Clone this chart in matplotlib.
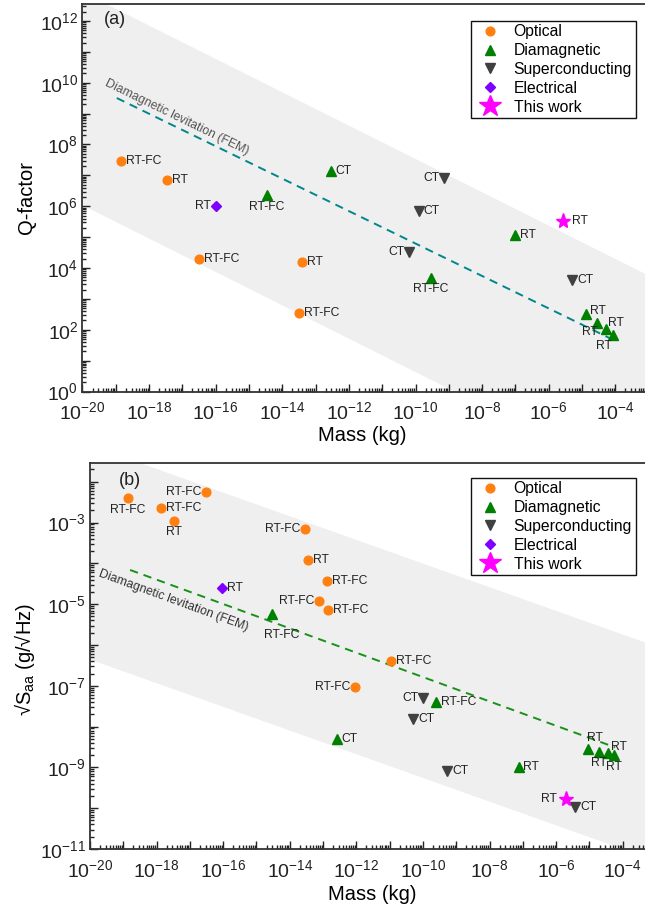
import numpy as np
import matplotlib
matplotlib.use("Agg")
import matplotlib.pyplot as plt
from matplotlib import ticker
from matplotlib.lines import Line2D

plt.rcParams['font.family'] = ['Liberation Sans', 'DejaVu Sans']
plt.rcParams['mathtext.fontset'] = 'custom'
plt.rcParams['mathtext.rm'] = 'Liberation Sans'
plt.rcParams['mathtext.it'] = 'Liberation Sans:italic'
plt.rcParams['mathtext.bf'] = 'Liberation Sans:bold'
plt.rcParams['mathtext.default'] = 'regular'
plt.rcParams['lines.scale_dashes'] = False

# ---------------- (a) Q-factor vs mass ----------------
qa_opt_mass = [1.4e-19, 3.4e-18, 3.2e-17, 4.0e-14, 3.2e-14]
qa_opt_val = [3.0e7, 6.9e6, 1.9e4, 1.6e4, 355]
qa_opt_txt = ['RT-FC', 'RT', 'RT-FC', 'RT', 'RT-FC']
qa_opt_pos = ['r', 'r', 'r', 'r', 'r']

qa_dia_mass = [3.4e-15, 2.9e-13, 2.95e-10, 9.5e-8, 1.3e-5, 2.9e-5, 5.1e-5, 8.3e-5]
qa_dia_val = [2.3e6, 1.4e7, 4.9e3, 1.2e5, 324, 162, 102, 68]
qa_dia_txt = ['RT-FC', 'CT', 'RT-FC', 'RT', 'RT', 'RT', 'RT', 'RT']
qa_dia_pos = ['b', 'r', 'b', 'r', 'ru', 'll', 'ur', 'bl']

qa_sc_mass = [7.4e-10, 1.26e-10, 6.5e-11, 5.1e-6]
qa_sc_val = [8.1e6, 7.2e5, 3.4e4, 4.1e3]
qa_sc_txt = ['CT', 'CT', 'CT', 'CT']
qa_sc_pos = ['l', 'r', 'l', 'r']

qa_el_mass = [1.0e-16]
qa_el_val = [1.05e6]
qa_el_txt = ['RT']
qa_el_pos = ['l']

qa_tw_mass = [2.6e-6]
qa_tw_val = [3.4e5]
qa_tw_txt = ['RT']
qa_tw_pos = ['R']

qa_band_mass = [1e-20, 1e-3]
qa_band_hi = [8.7e12, 5.8e3]
qa_band_lo = [1.1e6, 7.2e-4]
qa_fem_mass = [1.07e-19, 8.7e-5]
qa_fem_val = [3.2e9, 47]

# ---------------- (b) acceleration noise vs mass ----------------
sb_opt_mass = [1.4e-19, 1.35e-18, 3.3e-18, 3.0e-17, 2.9e-14, 3.6e-14,
               1.35e-13, 7.8e-14, 1.4e-13, 9.1e-13, 1.1e-11]
sb_opt_val = [4.0e-3, 2.3e-3, 1.1e-3, 5.5e-3, 7.1e-4, 1.23e-4,
              3.6e-5, 1.23e-5, 7.4e-6, 9.5e-8, 4.0e-7]
sb_opt_txt = ['RT-FC', 'RT-FC', 'RT', 'RT-FC', 'RT-FC', 'RT',
              'RT-FC', 'RT-FC', 'RT-FC', 'RT-FC', 'RT-FC']
sb_opt_pos = ['b', 'r', 'b', 'l', 'l', 'r', 'r', 'l', 'r', 'l', 'r']

sb_dia_mass = [2.95e-15, 2.6e-13, 2.4e-10, 7.4e-8, 9.1e-6, 1.95e-5, 3.55e-5, 5.5e-5]
sb_dia_val = [5.9e-6, 5.1e-9, 3.9e-8, 1.05e-9, 2.75e-9, 2.4e-9, 2.2e-9, 2.0e-9]
sb_dia_txt = ['RT-FC', 'CT', 'RT-FC', 'RT', 'RT', 'RT', 'RT', 'RT']
sb_dia_pos = ['bb', 'r', 'r', 'r', 'tr', 'b', 'ur', 'b']

sb_sc_mass = [1.0e-10, 5.1e-11, 5.4e-10, 3.7e-6]
sb_sc_val = [4.9e-8, 1.5e-8, 8.1e-10, 1.1e-10]
sb_sc_txt = ['CT', 'CT', 'CT', 'CT']
sb_sc_pos = ['l', 'r', 'r', 'r']

sb_el_mass = [9.5e-17]
sb_el_val = [2.45e-5]
sb_el_txt = ['RT']
sb_el_pos = ['r']

sb_tw_mass = [2.0e-6]
sb_tw_val = [1.66e-10]
sb_tw_txt = ['RT']
sb_tw_pos = ['L']

sb_band_mass = [1e-20, 1e-3]
sb_band_hi = [8.0e-2, 9.4e-7]
sb_band_lo = [4.5e-7, 5.2e-12]
sb_fem_mass = [1.6e-19, 5.9e-5]
sb_fem_val = [6.9e-5, 3.1e-9]

# label placement: (offset in points, ha, va)
PLACE = {
    'r': ((3.5, 0), 'left', 'center'),
    'l': ((-3.5, 0), 'right', 'center'),
    'R': ((7, 0), 'left', 'center'),
    'L': ((-7, 0), 'right', 'center'),
    'b': ((0, -4), 'center', 'top'),
    'bb': ((7, -11), 'center', 'top'),
    'bl': ((-6, -4), 'center', 'top'),
    'ru': ((3, 2), 'left', 'center'),
    'ur': ((2, 0), 'left', 'bottom'),
    'tr': ((5, 4), 'center', 'bottom'),
    'll': ((0, -2), 'right', 'top'),
}

C_OPT = '#ff8010'
C_DIA = '#008000'
C_SC = '#404040'
C_EL = '#8000ff'
C_TW = '#ff00ff'

styles = [
    ('Optical', 'o', C_OPT, 6.3),
    ('Diamagnetic', '^', C_DIA, 6.8),
    ('Superconducting', 'v', C_SC, 6.8),
    ('Electrical', 'D', C_EL, 5.0),
    ('This work', '*', C_TW, 11),
]


def log_fmt(parity):
    def f(v, pos):
        e = int(round(np.log10(v)))
        if e % 2 == parity:
            return r'$10^{%d}$' % e
        return ''
    return ticker.FuncFormatter(f)


def setup_axes(ax, ylim, ypar):
    ax.set_xscale('log')
    ax.set_yscale('log')
    ax.set_xlim(1e-20, 1e-3)
    ax.set_ylim(*ylim)
    for a in (ax.xaxis, ax.yaxis):
        a.set_major_locator(ticker.LogLocator(base=10, numticks=40))
        a.set_minor_locator(ticker.LogLocator(base=10, subs=np.arange(2, 10), numticks=400))
        a.set_minor_formatter(ticker.NullFormatter())
    ax.xaxis.set_major_formatter(log_fmt(0))
    ax.yaxis.set_major_formatter(log_fmt(ypar))
    ax.tick_params(which='both', direction='in', top=False, right=False,
                   width=1, colors='#222222', labelsize=14)
    ax.tick_params(axis='x', pad=7)
    ax.tick_params(axis='y', pad=3)
    ax.tick_params(which='major', length=5.5)
    ax.tick_params(which='minor', length=2.8)
    for s in ax.spines.values():
        s.set_color('#333333')
        s.set_linewidth(1.3)


def draw_points(ax, groups):
    for (name, mk, col, ms), (mass, val, txt, pos) in zip(styles, groups):
        ax.plot(mass, val, ls='none', marker=mk, color=col, ms=ms,
                mec=col, zorder=4, clip_on=False)
        for m, v, t, p in zip(mass, val, txt, pos):
            off, ha, va = PLACE[p]
            ax.annotate(t, (m, v), xytext=off, textcoords='offset points',
                        ha=ha, va=va, fontsize=8.7, color='#222222', zorder=5)


def draw_fem(ax, mass, val, color, txt_xy, txt_color):
    ax.plot(mass, val, ls=(0, (6, 4.3)), color=color, lw=1.4, zorder=3)
    p1 = ax.transData.transform((mass[0], val[0]))
    p2 = ax.transData.transform((mass[1], val[1]))
    ang = np.degrees(np.arctan2(p2[1] - p1[1], p2[0] - p1[0]))
    ax.text(txt_xy[0], txt_xy[1], 'Diamagnetic levitation (FEM)', rotation=ang,
            rotation_mode='anchor', ha='center', va='center', fontsize=8.8,
            color=txt_color, zorder=3)


def add_legend(ax, y_top):
    handles = [Line2D([], [], ls='none', marker=mk, color=col, mec=col,
                      ms=(ms * 1.5 if mk == '*' else ms), label=name)
               for name, mk, col, ms in styles]
    leg = ax.legend(handles=handles, loc='upper left',
                    bbox_to_anchor=(471 / 645, y_top), bbox_transform=fig.transFigure,
                    fontsize=11.3, frameon=True, fancybox=False, framealpha=1,
                    edgecolor='#111111', borderpad=0.22, labelspacing=0.24,
                    handlelength=2.0, handletextpad=0.5, borderaxespad=0)
    leg.get_frame().set_linewidth(1.0)


fig = plt.figure(figsize=(6.45, 9.09), dpi=100)

# panel (a)
ax1 = fig.add_axes([0.1279, 0.5693, 0.8777, 0.4263])
setup_axes(ax1, (1, 10 ** 12.55), 0)
ax1.fill_between(qa_band_mass, qa_band_lo, qa_band_hi, color='#efefef', lw=0, zorder=1)
draw_fem(ax1, qa_fem_mass, qa_fem_val, '#00868b', (7.0e-18, 7.8e8), '#555555')
draw_points(ax1, [
    (qa_opt_mass, qa_opt_val, qa_opt_txt, qa_opt_pos),
    (qa_dia_mass, qa_dia_val, qa_dia_txt, qa_dia_pos),
    (qa_sc_mass, qa_sc_val, qa_sc_txt, qa_sc_pos),
    (qa_el_mass, qa_el_val, qa_el_txt, qa_el_pos),
    (qa_tw_mass, qa_tw_val, qa_tw_txt, qa_tw_pos),
])
ax1.set_xlabel('Mass (kg)', fontsize=14.5)
ax1.xaxis.set_label_coords(0.494, -0.09)
ax1.set_ylabel('Q-factor', fontsize=14.5)
ax1.yaxis.set_label_coords(-0.082, 0.5)
ax1.text(0.057, 0.959, '(a)', transform=ax1.transAxes, fontsize=13,
         ha='center', va='center', color='#222222')
add_legend(ax1, 1 - 21 / 909)

# panel (b)
ax2 = fig.add_axes([0.1395, 0.0660, 0.8777, 0.4251])
setup_axes(ax2, (1e-11, 10 ** -1.53), 1)
ax2.fill_between(sb_band_mass, sb_band_lo, sb_band_hi, color='#efefef', lw=0, zorder=1)
draw_fem(ax2, sb_fem_mass, sb_fem_val, '#199119', (3.3e-18, 1.26e-5), '#333333')
draw_points(ax2, [
    (sb_opt_mass, sb_opt_val, sb_opt_txt, sb_opt_pos),
    (sb_dia_mass, sb_dia_val, sb_dia_txt, sb_dia_pos),
    (sb_sc_mass, sb_sc_val, sb_sc_txt, sb_sc_pos),
    (sb_el_mass, sb_el_val, sb_el_txt, sb_el_pos),
    (sb_tw_mass, sb_tw_val, sb_tw_txt, sb_tw_pos),
])
ax2.set_xlabel('Mass (kg)', fontsize=14.5)
ax2.xaxis.set_label_coords(0.499, -0.092)
ax2.set_ylabel('√S$_{aa}$ (g/√Hz)', fontsize=14.5)
ax2.yaxis.set_label_coords(-0.094, 0.49)
ax2.text(0.0707, 0.954, '(b)', transform=ax2.transAxes, fontsize=13,
         ha='center', va='center', color='#222222')
add_legend(ax2, 1 - 478 / 909)

fig.savefig('out.png', dpi=100)
